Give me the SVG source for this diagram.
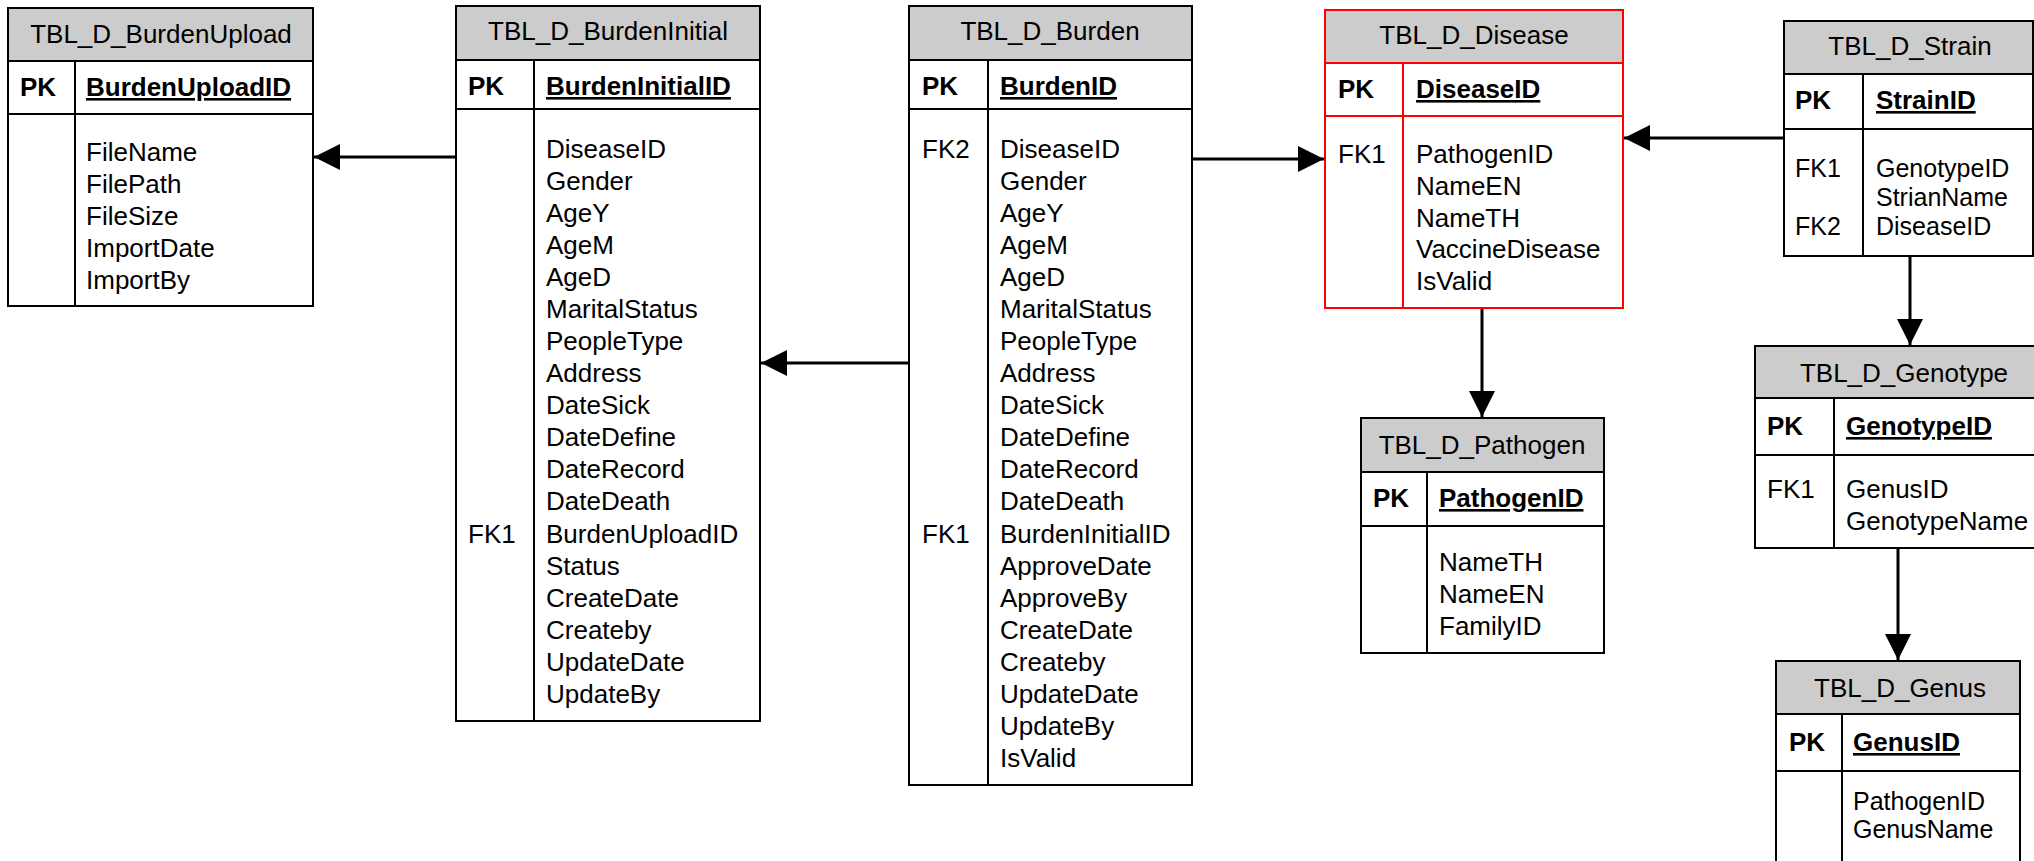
<svg xmlns="http://www.w3.org/2000/svg" width="2034" height="861" viewBox="0 0 2034 861">
<style>
text{font-family:"Liberation Sans",Arial,sans-serif;font-size:26px;fill:#000}
.t{text-anchor:middle}
.b{font-weight:bold}
.u{font-weight:bold;text-decoration:underline}
.s{font-size:25px}
.box{fill:#fff;stroke:#000;stroke-width:2}
.hd{fill:#cccccc;stroke:#000;stroke-width:2}
.ln{stroke:#000;stroke-width:2;fill:none}
.red .box,.red .hd,.red .ln{stroke:#ff0000}
.con{stroke:#000;stroke-width:3;fill:none;marker-end:url(#ah)}
</style>
<defs>
<marker id="ah" markerUnits="userSpaceOnUse" markerWidth="28" markerHeight="28" refX="26" refY="13" orient="auto">
<path d="M0,0 L26,13 L0,26 z" fill="#000"/>
</marker>
</defs>
<rect width="2034" height="861" fill="#fff"/>

<g id="connectors">
<line class="con" x1="456" y1="157" x2="314" y2="157"/>
<line class="con" x1="909" y1="363" x2="761" y2="363"/>
<line class="con" x1="1192" y1="159" x2="1324" y2="159"/>
<line class="con" x1="1784" y1="138" x2="1624" y2="138"/>
<line class="con" x1="1482" y1="309" x2="1482" y2="417"/>
<line class="con" x1="1910" y1="257" x2="1910" y2="345"/>
<line class="con" x1="1898" y1="549" x2="1898" y2="660"/>
</g>

<g id="TBL_D_BurdenUpload">
<rect class="box" x="8" y="8" width="305" height="298"/>
<rect class="hd" x="8" y="8" width="305" height="53"/>
<line class="ln" x1="8" y1="114" x2="313" y2="114"/>
<line class="ln" x1="75" y1="61" x2="75" y2="306"/>
<text class="t" x="161" y="43">TBL_D_BurdenUpload</text>
<text class="b" x="20" y="96">PK</text>
<text class="u" x="86" y="96">BurdenUploadID</text>
<text x="86" y="161">FileName</text>
<text x="86" y="193">FilePath</text>
<text x="86" y="225">FileSize</text>
<text x="86" y="257">ImportDate</text>
<text x="86" y="289">ImportBy</text>
</g>

<g id="TBL_D_BurdenInitial">
<rect class="box" x="456" y="6" width="304" height="715"/>
<rect class="hd" x="456" y="6" width="304" height="54"/>
<line class="ln" x1="456" y1="109" x2="760" y2="109"/>
<line class="ln" x1="534" y1="60" x2="534" y2="721"/>
<text class="t" x="608" y="40">TBL_D_BurdenInitial</text>
<text class="b" x="468" y="95">PK</text>
<text class="u" x="546" y="95">BurdenInitialID</text>
<text x="468" y="542.6">FK1</text>
<text x="546" y="158">DiseaseID</text>
<text x="546" y="190">Gender</text>
<text x="546" y="222">AgeY</text>
<text x="546" y="254">AgeM</text>
<text x="546" y="286">AgeD</text>
<text x="546" y="318">MaritalStatus</text>
<text x="546" y="350">PeopleType</text>
<text x="546" y="382">Address</text>
<text x="546" y="414">DateSick</text>
<text x="546" y="446">DateDefine</text>
<text x="546" y="478">DateRecord</text>
<text x="546" y="510">DateDeath</text>
<text x="546" y="542.6">BurdenUploadID</text>
<text x="546" y="574.6">Status</text>
<text x="546" y="606.6">CreateDate</text>
<text x="546" y="638.6">Createby</text>
<text x="546" y="670.6">UpdateDate</text>
<text x="546" y="702.6">UpdateBy</text>
</g>

<g id="TBL_D_Burden">
<rect class="box" x="909" y="6" width="283" height="779"/>
<rect class="hd" x="909" y="6" width="283" height="54"/>
<line class="ln" x1="909" y1="109" x2="1192" y2="109"/>
<line class="ln" x1="988" y1="60" x2="988" y2="785"/>
<text class="t" x="1050" y="40">TBL_D_Burden</text>
<text class="b" x="922" y="95">PK</text>
<text class="u" x="1000" y="95">BurdenID</text>
<text x="922" y="158">FK2</text>
<text x="922" y="542.6">FK1</text>
<text x="1000" y="158">DiseaseID</text>
<text x="1000" y="190">Gender</text>
<text x="1000" y="222">AgeY</text>
<text x="1000" y="254">AgeM</text>
<text x="1000" y="286">AgeD</text>
<text x="1000" y="318">MaritalStatus</text>
<text x="1000" y="350">PeopleType</text>
<text x="1000" y="382">Address</text>
<text x="1000" y="414">DateSick</text>
<text x="1000" y="446">DateDefine</text>
<text x="1000" y="478">DateRecord</text>
<text x="1000" y="510">DateDeath</text>
<text x="1000" y="542.6">BurdenInitialID</text>
<text x="1000" y="574.6">ApproveDate</text>
<text x="1000" y="606.6">ApproveBy</text>
<text x="1000" y="638.6">CreateDate</text>
<text x="1000" y="670.6">Createby</text>
<text x="1000" y="702.6">UpdateDate</text>
<text x="1000" y="734.6">UpdateBy</text>
<text x="1000" y="766.6">IsValid</text>
</g>

<g id="TBL_D_Disease" class="red">
<rect class="box" x="1325" y="10" width="298" height="298"/>
<rect class="hd" x="1325" y="10" width="298" height="53"/>
<line class="ln" x1="1325" y1="116" x2="1623" y2="116"/>
<line class="ln" x1="1403" y1="63" x2="1403" y2="308"/>
<text class="t" x="1474" y="44">TBL_D_Disease</text>
<text class="b" x="1338" y="98">PK</text>
<text class="u" x="1416" y="98">DiseaseID</text>
<text x="1338" y="163">FK1</text>
<text x="1416" y="163">PathogenID</text>
<text x="1416" y="195">NameEN</text>
<text x="1416" y="227">NameTH</text>
<text x="1416" y="258">VaccineDisease</text>
<text x="1416" y="290">IsValid</text>
</g>

<g id="TBL_D_Pathogen">
<rect class="box" x="1361" y="418" width="243" height="235"/>
<rect class="hd" x="1361" y="418" width="243" height="54"/>
<line class="ln" x1="1361" y1="526" x2="1604" y2="526"/>
<line class="ln" x1="1427" y1="472" x2="1427" y2="653"/>
<text class="t" x="1482" y="454">TBL_D_Pathogen</text>
<text class="b" x="1373" y="507">PK</text>
<text class="u" x="1439" y="507">PathogenID</text>
<text x="1439" y="571">NameTH</text>
<text x="1439" y="603">NameEN</text>
<text x="1439" y="635">FamilyID</text>
</g>

<g id="TBL_D_Strain">
<rect class="box" x="1784" y="21" width="249" height="235"/>
<rect class="hd" x="1784" y="21" width="249" height="53"/>
<line class="ln" x1="1784" y1="129" x2="2033" y2="129"/>
<line class="ln" x1="1863" y1="74" x2="1863" y2="256"/>
<text class="t" x="1910" y="55">TBL_D_Strain</text>
<text class="b" x="1795" y="109">PK</text>
<text class="u" x="1876" y="109">StrainID</text>
<text class="s" x="1795" y="177">FK1</text>
<text class="s" x="1795" y="235">FK2</text>
<text class="s" x="1876" y="177">GenotypeID</text>
<text class="s" x="1876" y="206">StrianName</text>
<text class="s" x="1876" y="235">DiseaseID</text>
</g>

<g id="TBL_D_Genotype">
<rect class="box" x="1755" y="346" width="298" height="202"/>
<rect class="hd" x="1755" y="346" width="298" height="52"/>
<line class="ln" x1="1755" y1="455" x2="2053" y2="455"/>
<line class="ln" x1="1834" y1="398" x2="1834" y2="548"/>
<text class="t" x="1904" y="382">TBL_D_Genotype</text>
<text class="b" x="1767" y="435">PK</text>
<text class="u" x="1846" y="435">GenotypeID</text>
<text x="1767" y="498">FK1</text>
<text x="1846" y="498">GenusID</text>
<text x="1846" y="530">GenotypeName</text>
</g>

<g id="TBL_D_Genus">
<rect class="box" x="1776" y="661" width="244" height="230"/>
<rect class="hd" x="1776" y="661" width="244" height="53"/>
<line class="ln" x1="1776" y1="771" x2="2020" y2="771"/>
<line class="ln" x1="1842" y1="714" x2="1842" y2="891"/>
<text class="t" x="1900" y="697">TBL_D_Genus</text>
<text class="b" x="1789" y="751">PK</text>
<text class="u" x="1853" y="751">GenusID</text>
<text class="s" x="1853" y="810">PathogenID</text>
<text class="s" x="1853" y="838">GenusName</text>
</g>
</svg>
